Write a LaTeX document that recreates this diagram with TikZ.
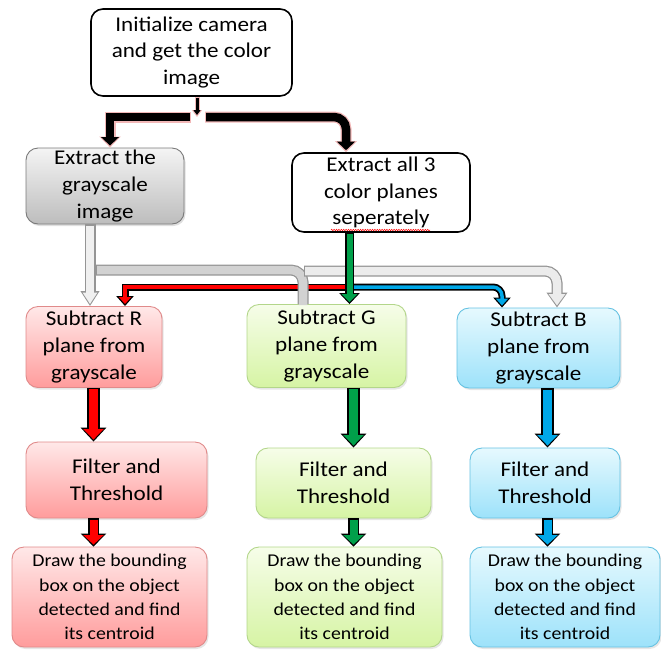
\documentclass[tikz,border=0pt]{standalone}
\usepackage{fontspec}
\setmainfont{Carlito}[FakeStretch=1.1]
\usetikzlibrary{arrows.meta, positioning, shadows, decorations.pathmorphing}
\definecolor{Gray_Top}{HTML}{F4F4F4}
\definecolor{Gray_Bot}{HTML}{BDBDBD}
\definecolor{Gray_Line}{HTML}{7A7A7A}
\definecolor{R_Top}{HTML}{FFE8E8}
\definecolor{R_Bot}{HTML}{FF9C9C}
\definecolor{R_Line}{HTML}{E08A8A}
\definecolor{G_Top}{HTML}{F6FDE9}
\definecolor{G_Bot}{HTML}{D6F4A4}
\definecolor{G_Line}{HTML}{B3D68A}
\definecolor{B_Top}{HTML}{E6F9FE}
\definecolor{B_Bot}{HTML}{9DE2FA}
\definecolor{B_Line}{HTML}{66C2E2}
\definecolor{R_Arrow}{HTML}{FF0000}
\definecolor{G_Arrow}{HTML}{00A04A}
\definecolor{B_Arrow}{HTML}{00A8E8}
\definecolor{Pink_Edge}{HTML}{F2B8B8}

\tikzset{
  box/.style={draw, rounded corners=12pt, line width=0.9pt, align=center, inner sep=0pt,
    font=\fontsize{21}{26.8}\selectfont, execute at begin node={\rule{0pt}{20pt}}},
  drawbox/.style={box, font=\fontsize{18}{24.2}\selectfont, execute at begin node={\rule{0pt}{16pt}}},
  whitebox/.style={box, line width=1.6pt, fill=white},
  graybox/.style={box, draw=Gray_Line, top color=Gray_Top, bottom color=Gray_Bot,
    drop shadow={shadow xshift=1.5pt, shadow yshift=-2pt, opacity=0.25}},
  rbox/.style={draw=R_Line, top color=R_Top, bottom color=R_Bot,
    drop shadow={shadow xshift=1.5pt, shadow yshift=-2pt, opacity=0.2}},
  gbox/.style={draw=G_Line, top color=G_Top, bottom color=G_Bot,
    drop shadow={shadow xshift=1.5pt, shadow yshift=-2pt, opacity=0.2}},
  bbox/.style={draw=B_Line, top color=B_Top, bottom color=B_Bot,
    drop shadow={shadow xshift=1.5pt, shadow yshift=-2pt, opacity=0.2}},
  % block arrows: outline pass, then fill pass
  arrowout/.style n args={4}{draw=#1, line width=#2, -{Triangle[width=#3,length=#4]}},
  arrowin/.style n args={4}{draw=#1, line width=#2, -{Triangle[width=#3,length=#4]},
    shorten >=2pt, shorten <=1.2pt},
  barout/.style n args={2}{draw=#1, line width=#2},
  barin/.style n args={2}{draw=#1, line width=#2, shorten <=1.2pt},
}

\begin{document}
\begin{tikzpicture}[x=1pt, y=-1pt]
\useasboundingbox (0,0) rectangle (661,649);

% --- top part ---
\node[whitebox, minimum width=201pt, minimum height=87pt] (init) at (191.5,52.5)
  {Initialize camera\\and get the color\\image};
\node[graybox, minimum width=158pt, minimum height=76pt] (gray) at (105,186)
  {Extract the\\grayscale\\image};
\node[whitebox, minimum width=178pt, minimum height=79pt] (planes) at (381,192.5)
  {Extract all 3\\color planes\\seperately};
\draw[red, line width=0.5pt, decorate, decoration={snake, amplitude=0.7pt, segment length=2.4pt}]
  (331,230) -- (430,230);

% --- three colour columns ---
\node[box, rbox, minimum width=136pt, minimum height=81pt] (subR) at (94,347)
  {Subtract R\\plane from\\grayscale};
\node[box, gbox, minimum width=159pt, minimum height=83pt] (subG) at (326.5,346)
  {Subtract G\\plane from\\grayscale};
\node[box, bbox, minimum width=163pt, minimum height=80pt] (subB) at (538.5,348)
  {Subtract B\\plane from\\grayscale};

\node[box, rbox, minimum width=181pt, minimum height=76pt] (filtR) at (116.5,480)
  {Filter and\\Threshold};
\node[box, gbox, minimum width=175pt, minimum height=70pt] (filtG) at (343.5,483)
  {Filter and\\Threshold};
\node[box, bbox, minimum width=150pt, minimum height=70pt] (filtB) at (545,483)
  {Filter and\\Threshold};

\node[drawbox, rbox, minimum width=195pt, minimum height=100pt] (drawR) at (109.5,597)
  {Draw the bounding\\box on the object\\detected and find\\its centroid};
\node[drawbox, gbox, minimum width=195pt, minimum height=100pt] (drawG) at (344.5,597)
  {Draw the bounding\\box on the object\\detected and find\\its centroid};
\node[drawbox, bbox, minimum width=190pt, minimum height=100pt] (drawB) at (565,597)
  {Draw the bounding\\box on the object\\detected and find\\its centroid};

% --- helper coordinates ---
\coordinate (split) at (197,117);
\coordinate (kcolL) at (110,0);
\coordinate (kcolR) at (346,0);
\coordinate (gcol) at (90,0);
\coordinate (gcolG) at (303,0);
\coordinate (gcolB) at (557,0);
\coordinate (gb1) at (96,270);
\coordinate (gb2) at (304,271);
\coordinate (grcol) at (349.5,0);
\coordinate (rjoin) at (349.5,287);
\coordinate (rcol) at (125,0);
\coordinate (bcol) at (502,0);
\coordinate (colR) at (93.5,0);
\coordinate (colG) at (353.5,0);
\coordinate (colB) at (547.5,0);

% --- black split ---
\draw[arrowout={Pink_Edge}{5pt}{10pt}{7pt}] (split |- init.south) -- (split);
\draw[arrowin={black}{3pt}{7pt}{5pt}] (split |- init.south) -- (split);
\draw[arrowout={Pink_Edge}{11pt}{21pt}{11pt}] ([xshift=-6pt]split) -| (kcolL |- gray.north);
\draw[arrowin={black}{8.5pt}{17.5pt}{8.5pt}] ([xshift=-6pt]split) -| (kcolL |- gray.north);
\draw[arrowout={Pink_Edge}{11pt}{21pt}{11pt}, rounded corners=12pt] ([xshift=8pt]split) -| (kcolR |- planes.north);
\draw[arrowin={black}{8.5pt}{17.5pt}{8.5pt}, rounded corners=12pt] ([xshift=8pt]split) -| (kcolR |- planes.north);

% --- red and blue feeds ---
\draw[arrowout={black}{7pt}{17pt}{10pt}] (rjoin) -| (rcol |- subR.north);
\draw[arrowin={R_Arrow}{3.5pt}{12pt}{7pt}] (rjoin) -| (rcol |- subR.north);
\draw[arrowout={black}{7pt}{17pt}{10pt}, rounded corners=9pt] (rjoin) -| (bcol |- subB.north);
\draw[arrowin={B_Arrow}{3.5pt}{12pt}{7pt}, rounded corners=9pt] (rjoin) -| (bcol |- subB.north);

% --- grayscale feeds ---
\draw[barout={Gray_Line!80}{11pt}, rounded corners=12pt] (gb1) -| (gcolG |- subG.north);
\draw[barin={gray!35}{8.5pt}, rounded corners=12pt] (gb1) -| ([yshift=-1pt]gcolG |- subG.north);
\draw[arrowout={Gray_Line!80}{11pt}{20pt}{15pt}, rounded corners=12pt] (gb2) -| (gcolB |- subB.north);
\draw[arrowin={gray!15}{8.5pt}{16pt}{11.5pt}, rounded corners=12pt] (gb2) -| (gcolB |- subB.north);
\draw[arrowout={Gray_Line!80}{11pt}{18pt}{15pt}] (gcol |- gray.south) -- (gcol |- subR.north);
\draw[arrowin={gray!12}{8.5pt}{14pt}{11.5pt}] (gcol |- gray.south) -- (gcol |- subR.north);

% --- green feed ---
\draw[arrowout={black}{9pt}{20pt}{11pt}] (grcol |- planes.south) -- (grcol |- subG.north);
\draw[arrowin={G_Arrow}{6pt}{15.5pt}{8pt}] (grcol |- planes.south) -- (grcol |- subG.north);

% --- column arrows ---
\foreach \c/\fillc in {R/R_Arrow, G/G_Arrow, B/B_Arrow} {
  \draw[arrowout={black}{13pt}{25pt}{14pt}] (col\c |- sub\c.south) -- (col\c |- filt\c.north);
  \draw[arrowin={\fillc}{9.5pt}{20pt}{10.5pt}] (col\c |- sub\c.south) -- (col\c |- filt\c.north);
  \draw[arrowout={black}{11.5pt}{25pt}{13pt}] (col\c |- filt\c.south) -- (col\c |- draw\c.north);
  \draw[arrowin={\fillc}{8pt}{20pt}{9.5pt}] (col\c |- filt\c.south) -- (col\c |- draw\c.north);
}
\end{tikzpicture}
\end{document}
